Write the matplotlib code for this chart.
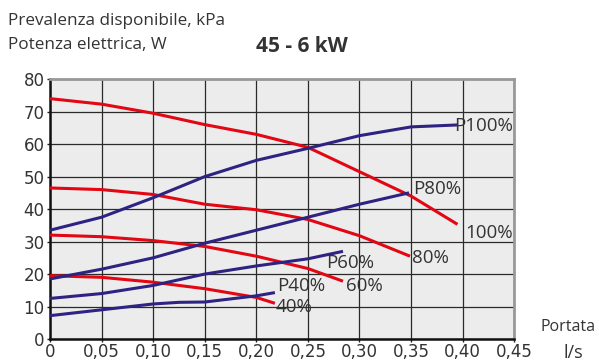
import matplotlib.pyplot as plt

plt.rcParams['font.family'] = ['Open Sans', 'DejaVu Sans']

# Pressure curves (kPa) - red
x_100 = [0, 0.05, 0.10, 0.15, 0.20, 0.25, 0.30, 0.35, 0.395]
y_100 = [74, 72.3, 69.5, 66, 63, 59, 51.5, 44, 35.3]
x_80 = [0, 0.05, 0.10, 0.15, 0.20, 0.25, 0.30, 0.349]
y_80 = [46.5, 46, 44.5, 41.5, 39.8, 36.8, 31.8, 25.5]
x_60 = [0, 0.05, 0.10, 0.15, 0.20, 0.25, 0.284]
y_60 = [32, 31.5, 30.3, 28.5, 25.5, 21.7, 17.8]
x_40 = [0, 0.05, 0.10, 0.15, 0.20, 0.218]
y_40 = [19.5, 19, 17.5, 15.5, 12.8, 11]

# Electric power curves (W) - blue
xp_100 = [0, 0.05, 0.10, 0.15, 0.20, 0.25, 0.30, 0.35, 0.395]
yp_100 = [33.5, 37.5, 43.5, 50, 55, 58.7, 62.6, 65.3, 65.9]
xp_80 = [0, 0.05, 0.10, 0.15, 0.20, 0.25, 0.30, 0.348]
yp_80 = [18.5, 21.5, 25, 29.5, 33.5, 37.5, 41.5, 45]
xp_60 = [0, 0.05, 0.10, 0.15, 0.20, 0.25, 0.284]
yp_60 = [12.5, 14, 16.5, 20, 22.5, 24.7, 27]
xp_40 = [0, 0.05, 0.10, 0.125, 0.15, 0.20, 0.218]
yp_40 = [7.2, 9, 10.8, 11.3, 11.4, 13.3, 14.3]

x_ticks = [0, 0.05, 0.10, 0.15, 0.20, 0.25, 0.30, 0.35, 0.40, 0.45]
x_labels = ['0', '0,05', '0,10', '0,15', '0,20', '0,25', '0,30', '0,35', '0,40', '0,45']
y_ticks = [0, 10, 20, 30, 40, 50, 60, 70, 80]

red = '#e30613'
blue = '#2e2382'
txt = '#333333'

fig = plt.figure(figsize=(5.99, 3.63), dpi=100)
ax = fig.add_axes([0.0835, 0.066, 0.775, 0.716])
ax.set_facecolor('#ececec')

for xs, ys in [(x_100, y_100), (x_80, y_80), (x_60, y_60), (x_40, y_40)]:
    ax.plot(xs, ys, color=red, lw=2.2, solid_capstyle='butt', zorder=3)
for xs, ys in [(xp_100, yp_100), (xp_80, yp_80), (xp_60, yp_60), (xp_40, yp_40)]:
    ax.plot(xs, ys, color=blue, lw=2.2, solid_capstyle='butt', zorder=3)

ax.set_xlim(0, 0.45)
ax.set_ylim(0, 80)
ax.set_xticks(x_ticks)
ax.set_xticklabels(x_labels)
ax.set_yticks(y_ticks)
ax.grid(True, color='#2a2a2a', lw=0.9)
ax.set_axisbelow(True)
ax.tick_params(labelsize=12, colors=txt, length=2, width=1, pad=2)
ax.tick_params(axis='both', color='#222222')
ax.tick_params(axis='x', pad=1)
for t in ax.get_xticklabels() + ax.get_yticklabels():
    t.set_fontfamily('DejaVu Sans')

for s in ['top', 'right']:
    ax.spines[s].set_color('#999999')
    ax.spines[s].set_linewidth(2)
for s in ['left', 'bottom']:
    ax.spines[s].set_color('#111111')
    ax.spines[s].set_linewidth(1.8)

# Curve labels
lbl = dict(fontsize=13.5, color=txt, va='center', ha='left', zorder=4)
ax.text(0.3915, 65.5, 'P100%', **lbl)
ax.text(0.3515, 46.2, 'P80%', **lbl)
ax.text(0.4025, 32.5, '100%', **lbl)
ax.text(0.351, 24.8, '80%', **lbl)
ax.text(0.268, 23.5, 'P60%', **lbl)
ax.text(0.287, 16.2, '60%', **lbl)
ax.text(0.2205, 16.2, 'P40%', **lbl)
ax.text(0.2185, 10.0, '40%', **lbl)

fig.text(0.013, 0.942, 'Prevalenza disponibile, kPa', fontsize=12.3, color=txt, va='center')
fig.text(0.013, 0.876, 'Potenza elettrica, W', fontsize=12.3, color=txt, va='center')
fig.text(0.427, 0.873, '45 - 6 kW', fontsize=15, fontweight='bold', color=txt, va='center')
fig.text(0.903, 0.098, 'Portata', fontsize=11.5, color=txt, va='center')
fig.text(0.94, 0.003, 'l/s', fontsize=13, color=txt, va='bottom')

fig.savefig('out.png', dpi=100)
